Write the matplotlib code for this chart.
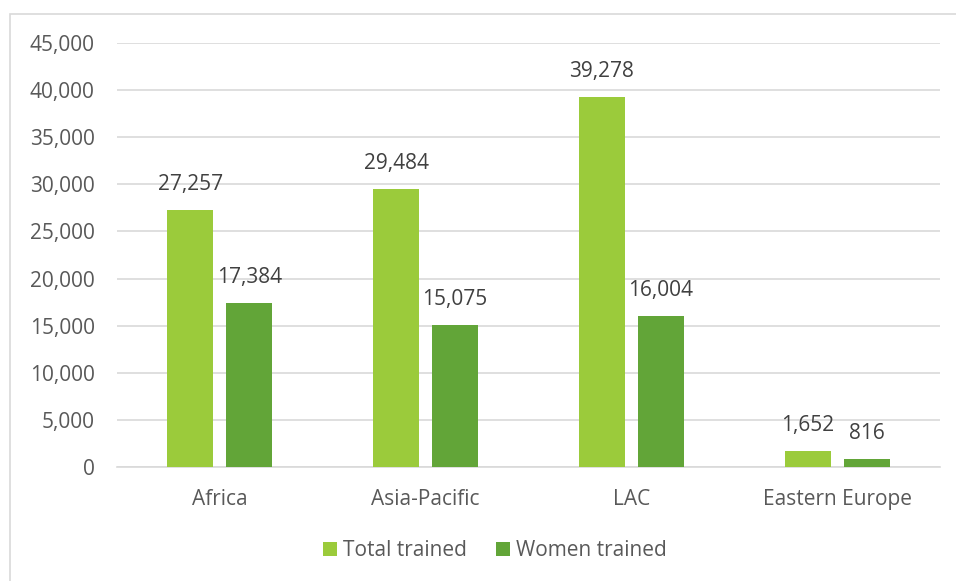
import matplotlib
matplotlib.use("Agg")
import matplotlib.pyplot as plt
import numpy as np
from matplotlib.patches import Rectangle

categories = ["Africa", "Asia-Pacific", "LAC", "Eastern Europe"]
total_trained = [27257, 29484, 39278, 1652]
women_trained = [17384, 15075, 16004, 816]
series_names = ["Total trained", "Women trained"]
yticks = list(range(0, 45001, 5000))

plt.rcParams['font.family'] = ['Open Sans', 'DejaVu Sans']
txt = '#595959'
c_total = '#9BCB3B'
c_women = '#62A538'

fig = plt.figure(figsize=(9.56, 5.81), dpi=100)
fig.patches.append(Rectangle((10/956, -0.1), 1.2, 1 - 14/581 + 0.1, transform=fig.transFigure,
                             fill=False, edgecolor='#D9D9D9', linewidth=1.2))
ax = fig.add_axes([117/956, 1 - 467/581, (940-117)/956, (467-43)/581])

x = np.arange(len(categories))
w = 0.224
off = (w + 0.063) / 2
b1 = ax.bar(x - off, total_trained, w, color=c_total, label=series_names[0], zorder=3)
b2 = ax.bar(x + off, women_trained, w, color=c_women, label=series_names[1], zorder=3)
for bars in (b1, b2):
    for r in bars:
        h = r.get_height()
        ax.annotate(f"{h:,.0f}", (r.get_x() + r.get_width()/2, h), xytext=(0, 11),
                    textcoords='offset points', ha='center', va='bottom', fontsize=15, color='#404040')

ax.set_xlim(-0.5, len(categories) - 0.5)
ax.set_ylim(0, 45000)
ax.set_yticks(yticks)
ax.set_yticklabels([f"{v:,}" for v in yticks])
ax.yaxis.grid(True, color='#D9D9D9', linewidth=1.2, zorder=0)
ax.set_xticks(x)
ax.set_xticklabels(categories)
ax.tick_params(axis='both', length=0, labelsize=15, colors=txt)
ax.tick_params(axis='y', pad=16)
ax.tick_params(axis='x', pad=16)
for s in ['top', 'right', 'left']:
    ax.spines[s].set_visible(False)
ax.spines['bottom'].set_color('#D9D9D9')
ax.spines['bottom'].set_linewidth(1.2)

leg = fig.legend(handles=[b1, b2], labels=series_names, loc='center', bbox_to_anchor=(495/956, 1 - 551/581),
                 ncol=2, frameon=False, fontsize=15, handlelength=0.65, handleheight=0.65,
                 handletextpad=0.3, columnspacing=1.4)
for t in leg.get_texts():
    t.set_color(txt)

fig.savefig("out.png", dpi=100)
